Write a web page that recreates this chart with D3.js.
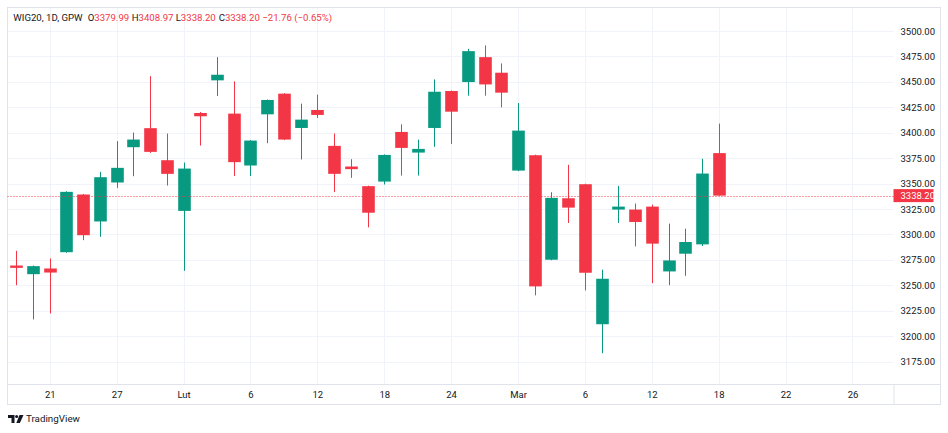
<!DOCTYPE html>
<html>
<head>
<meta charset="utf-8">
<script src="https://cdn.jsdelivr.net/npm/d3@7/dist/d3.min.js"></script>
<style>
  html, body { margin: 0; padding: 0; background: #ffffff; }
  svg { display: block; font-family: Roboto, "Noto Sans", sans-serif; }
</style>
</head>
<body>
<svg id="chart" width="948" height="433"></svg>
<script>
// ---- Data (WIG20 daily, Jan 19 – Mar 18) ----
const dates = ["01-19","01-20","01-21","01-22","01-23","01-26","01-27","01-28","01-29","01-30",
  "02-02","02-03","02-04","02-05","02-06","02-09","02-10","02-11","02-12","02-13",
  "02-16","02-17","02-18","02-19","02-20","02-23","02-24","02-25","02-26","02-27",
  "03-02","03-03","03-04","03-05","03-06","03-09","03-10","03-11","03-12","03-13",
  "03-16","03-17","03-18"];
const opens  = [3269.5,3261.0,3266.6,3282.6,3339.3,3312.8,3351.1,3385.8,3404.5,3373.0,
  3323.2,3419.4,3451.5,3418.8,3367.8,3418.1,3438.4,3404.7,3422.4,3387.1,
  3366.8,3347.5,3352.0,3400.8,3380.5,3404.7,3441.0,3449.8,3474.3,3459.0,
  3362.8,3377.9,3275.2,3335.6,3349.4,3211.8,3324.5,3324.5,3327.4,3263.7,
  3281.1,3290.3,3379.99];
const highs  = [3283.9,3269.5,3276.4,3342.5,3339.8,3361.6,3391.7,3400.2,3455.6,3399.2,
  3370.7,3420.4,3474.3,3450.5,3392.8,3432.7,3438.9,3428.6,3437.4,3399.2,
  3374.0,3348.0,3378.7,3408.3,3393.2,3452.4,3441.5,3482.5,3485.8,3468.1,
  3429.2,3378.4,3341.5,3368.5,3349.9,3265.4,3347.8,3330.4,3329.4,3310.7,
  3305.7,3374.4,3408.97];
const lows   = [3250.2,3216.5,3222.4,3282.0,3294.4,3297.7,3345.8,3357.3,3380.2,3348.1,
  3264.3,3387.4,3436.1,3357.4,3357.4,3389.7,3392.8,3373.7,3414.5,3341.7,
  3355.7,3307.0,3349.1,3357.9,3357.9,3386.1,3389.0,3436.4,3436.4,3425.0,
  3362.3,3240.2,3274.7,3311.3,3245.0,3183.3,3311.3,3288.3,3252.2,3250.2,
  3259.4,3288.7,3338.20];
const closes = [3267.2,3268.9,3262.6,3341.9,3299.3,3356.3,3365.5,3393.3,3381.2,3359.6,
  3364.8,3416.2,3457.0,3371.1,3392.3,3432.2,3393.3,3412.9,3417.5,3359.6,
  3364.2,3321.4,3378.2,3385.1,3384.1,3440.3,3420.7,3480.2,3447.5,3439.4,
  3402.1,3249.0,3336.0,3326.4,3262.4,3256.5,3327.4,3312.3,3291.0,3274.5,
  3292.6,3359.9,3338.20];

const priceTicks = [3175,3200,3225,3250,3275,3300,3325,3350,3375,3400,3425,3450,3475,3500];
const timeTickIdx = [2,6,10,14,18,22,26,30,34,38,42,46,50];
const timeTickLabels = ["21","27","Lut","6","12","18","24","Mar","6","12","18","22","26"];

const headerTitle = "WIG20, 1D, GPW";
const headerKeys = ["O","H","L","C"];
const headerVals = ["3379.99","3408.97","3338.20","3338.20"];
const headerChange = "\u221221.76 (\u22120.65%)";
const lastPrice = 3338.20;

// ---- Layout ----
const UP = "#089981", DOWN = "#F23645";
const GRID = "#f0f3fa", BORDER = "#e0e3eb", TEXT = "#131722";
const frame = {l:7.5, t:7.5, r:940.5, b:404.5};
const plotRight = 893.5, axisTop = 384.5;

const svg = d3.select("#chart");
svg.append("rect").attr("width",948).attr("height",433).attr("fill","#fff");

const x = d3.scaleLinear().domain([0, 42]).range([16.3, 718.7]);
const y = d3.scaleLinear().domain([3175, 3500]).range([361.67, 31]);
const bodyW = 12.6;

// grid
svg.append("g").selectAll("line").data(priceTicks).join("line")
  .attr("x1", frame.l).attr("x2", plotRight)
  .attr("y1", d => Math.round(y(d)) + 0.5).attr("y2", d => Math.round(y(d)) + 0.5)
  .attr("stroke", GRID).attr("stroke-width", 1);
svg.append("g").selectAll("line").data(timeTickIdx).join("line")
  .attr("x1", d => Math.round(x(d)) + 0.5).attr("x2", d => Math.round(x(d)) + 0.5)
  .attr("y1", frame.t).attr("y2", axisTop)
  .attr("stroke", GRID).attr("stroke-width", 1);

// frame
svg.append("rect").attr("x", frame.l).attr("y", frame.t)
  .attr("width", frame.r - frame.l).attr("height", frame.b - frame.t)
  .attr("fill", "none").attr("stroke", BORDER);
svg.append("line").attr("x1", frame.l).attr("x2", frame.r)
  .attr("y1", axisTop).attr("y2", axisTop).attr("stroke", BORDER);
svg.append("line").attr("x1", plotRight + 0.5).attr("x2", plotRight + 0.5)
  .attr("y1", axisTop).attr("y2", frame.b).attr("stroke", BORDER);

// candles
const data = dates.map((d, i) => ({i, d, o: opens[i], h: highs[i], l: lows[i], c: closes[i]}));
const cg = svg.append("g");
cg.selectAll("line.wick").data(data).join("line").attr("class","wick")
  .attr("x1", d => Math.round(x(d.i)) + 0.5).attr("x2", d => Math.round(x(d.i)) + 0.5)
  .attr("y1", d => y(d.h)).attr("y2", d => y(d.l))
  .attr("stroke", d => d.c >= d.o ? UP : DOWN).attr("stroke-width", 1);
cg.selectAll("rect.body").data(data).join("rect").attr("class","body")
  .attr("x", d => Math.round(x(d.i)) + 0.5 - bodyW / 2)
  .attr("width", bodyW)
  .attr("y", d => y(Math.max(d.o, d.c)))
  .attr("height", d => Math.max(1.5, Math.abs(y(d.o) - y(d.c))))
  .attr("fill", d => d.c >= d.o ? UP : DOWN);

// last price line
svg.append("line").attr("x1", frame.l).attr("x2", plotRight)
  .attr("y1", Math.round(y(lastPrice)) + 0.5).attr("y2", Math.round(y(lastPrice)) + 0.5)
  .attr("stroke", DOWN).attr("stroke-width", 1).attr("stroke-dasharray", "1,2");

// price axis
const yAxis = d3.axisRight(y).tickValues(priceTicks).tickSize(0).tickPadding(7)
  .tickFormat(d3.format(".2f"));
const ya = svg.append("g").attr("transform", `translate(${plotRight},0)`).call(yAxis);
ya.select(".domain").remove();
ya.selectAll("text").attr("fill", TEXT).style("font-size", "9.5px")
  .style("font-family", "Roboto, sans-serif");

// last price label
const ly = y(lastPrice);
svg.append("rect").attr("x", plotRight).attr("y", ly - 6.5).attr("width", 40).attr("height", 13)
  .attr("fill", DOWN);
svg.append("text").attr("x", plotRight + 7).attr("y", ly).attr("dy", "0.34em")
  .attr("fill", "#fff").style("font-size", "9.5px").text(d3.format(".2f")(lastPrice));

// time axis
const xAxis = d3.axisBottom(x).tickValues(timeTickIdx).tickSize(0).tickPadding(0)
  .tickFormat((d, i) => timeTickLabels[i]);
const xa = svg.append("g").attr("transform", `translate(0,${axisTop})`).call(xAxis);
xa.select(".domain").remove();
xa.selectAll("text").attr("y", 10.5).attr("dy", "0.34em").attr("fill", TEXT)
  .style("font-size", "9.5px").style("font-family", "Roboto, sans-serif");

// header
const hg = svg.append("g").style("font-size", "9.6px");
const hy = 18;
hg.append("text").attr("x", 13.3).attr("y", hy).attr("dy", "0.34em").attr("fill", TEXT).text(headerTitle);
const keyX = [87.7, 131.7, 175.7, 218.7];
headerKeys.forEach((k, i) => {
  const t = hg.append("text").attr("x", keyX[i]).attr("y", hy).attr("dy", "0.34em");
  t.append("tspan").attr("fill", TEXT).text(k);
  t.append("tspan").attr("fill", DOWN).text(headerVals[i]);
});
hg.append("text").attr("x", 262.3).attr("y", hy).attr("dy", "0.34em").attr("fill", DOWN).text(headerChange);

// TradingView logo
const lg = svg.append("g").attr("fill", TEXT);
lg.append("path").attr("d", "M8,415 h6.5 v8 h-3 v-5 h-3.5 z");
lg.append("circle").attr("cx", 16.6).attr("cy", 416.5).attr("r", 1.5);
lg.append("path").attr("d", "M19.5,415 h4 l-3.6,8 h-3.6 z");
svg.append("text").attr("x", 26).attr("y", 419).attr("dy", "0.34em")
  .attr("fill", TEXT).style("font-size", "9.8px").text("TradingView");
</script>
</body>
</html>
